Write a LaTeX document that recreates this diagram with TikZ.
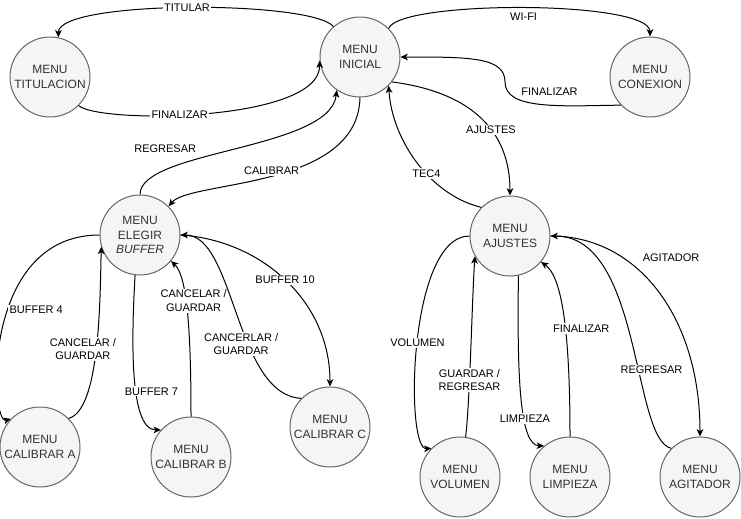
\documentclass[tikz,border=0pt]{standalone}
\usepackage{fontspec}
\setmainfont{Liberation Sans}
\usetikzlibrary{arrows.meta}
\definecolor{menufill}{HTML}{F5F5F5}
\definecolor{menuline}{HTML}{666666}
\definecolor{menutext}{HTML}{333333}

\begin{document}
\begin{tikzpicture}[x=0.75pt,y=-0.75pt,
  menu/.style={circle,draw=menuline,fill=menufill,text=menutext,minimum size=60pt,
    inner sep=0pt,align=center,line width=0.75pt,font=\fontsize{9}{10.8}\selectfont},
  trans/.style={line width=0.75pt,-{Stealth[length=5.5pt,width=5pt,inset=1.5pt]}},
  lbl/.style={fill=white,inner sep=1pt,align=center,font=\fontsize{8.25}{9.9}\selectfont}]
\useasboundingbox (0,0) rectangle (741,518);

\node[menu] (ini) at (360,57) {MENU\\INICIAL};
\node[menu] (tit) at (50,77) {MENU\\TITULACION};
\node[menu] (con) at (650,77) {MENU\\CONEXION};
\node[menu] (eleg) at (140,235) {MENU\\ELEGIR\\\textit{BUFFER}};
\node[menu] (aju) at (510,236) {MENU\\AJUSTES};
\node[menu] (calA) at (40,447) {MENU\\CALIBRAR A};
\node[menu] (calB) at (191,457) {MENU\\CALIBRAR B};
\node[menu] (calC) at (330,427) {MENU\\CALIBRAR C};
\node[menu] (vol) at (460,477) {MENU\\VOLUMEN};
\node[menu] (lim) at (570,477) {MENU\\LIMPIEZA};
\node[menu] (agi) at (700,477) {MENU\\AGITADOR};

\draw[trans] (ini.131) .. controls (310,0) and (58,0) .. (tit.78) node[lbl,pos=0.5] {TITULAR};
\draw[trans] (tit.-45) .. controls (100,124) and (320,122) .. (ini.185) node[lbl,pos=0.42] {FINALIZAR};
\draw[trans] (ini.45) .. controls (400,0) and (650,0) .. (con.north) node[lbl,pos=0.5,below=2pt] {WI-FI};
\draw[trans] (con.224) .. controls (560,106) and (505,110) .. (505,82) node[lbl,pos=0.5,above=5pt,xshift=7pt] {FINALIZAR}
  .. controls (505,57) and (470,57) .. (ini.east);
\draw[trans] (ini.-38) .. controls (470,92) and (510,130) .. (aju.north) node[lbl,pos=0.6] {AJUSTES};
\draw[trans] (aju.135) .. controls (430,195) and (392,140) .. (ini.-45) node[lbl,pos=0.41] {TEC4};

\draw[trans] (eleg.north) .. controls (140,150) and (330,150) .. (ini.-125) node[lbl,pos=0.3,above=7pt,xshift=-12pt] {REGRESAR};
\draw[trans] (ini.south) .. controls (358,190) and (190,180) .. (eleg.45) node[lbl,pos=0.5,above] {CALIBRAR};
\draw[trans] (eleg.west) .. controls (-20,235) and (-10,425) .. (calA.136) node[lbl,pos=0.43,right] {BUFFER 4};
\draw[trans] (calA.45) .. controls (100,410) and (100,300) .. (eleg.197) node[lbl,pos=0.5,xshift=-10pt] {CANCELAR /\\GUARDAR};
\draw[trans] (eleg.-97) .. controls (132,330) and (128,430) .. (calB.138) node[lbl,pos=0.6,xshift=11pt] {BUFFER 7};
\draw[trans] (calB.north) .. controls (191,320) and (186,275) .. (eleg.-40) node[lbl,pos=0.55,xshift=6pt] {CANCELAR /\\GUARDAR};
\draw[trans] (calC.135) .. controls (235,395) and (235,235) .. (eleg.east) node[lbl,pos=0.38,xshift=-5pt] {CANCERLAR /\\GUARDAR};
\draw[trans] (eleg.east) .. controls (260,240) and (330,300) .. (calC.north) node[lbl,pos=0.5] {BUFFER 10};

\draw[trans] (aju.west) .. controls (408,236) and (405,450) .. (vol.135) node[lbl,pos=0.5] {VOLUMEN};
\draw[trans] (vol.82) .. controls (470,400) and (472,300) .. (aju.210) node[lbl,pos=0.35] {GUARDAR /\\REGRESAR};
\draw[trans] (aju.-78) .. controls (517,380) and (520,445) .. (lim.130) node[lbl,pos=0.62] {LIMPIEZA};
\draw[trans] (lim.north) .. controls (570,320) and (560,275) .. (aju.-40) node[lbl,pos=0.4,xshift=12pt] {FINALIZAR};
\draw[trans] (aju.east) .. controls (640,236) and (700,320) .. (agi.north) node[lbl,pos=0.3,right,xshift=14pt] {AGITADOR};
\draw[trans] (agi.135) .. controls (632,440) and (642,236) .. (aju.east) node[lbl,pos=0.4,xshift=10pt] {REGRESAR};

\end{tikzpicture}
\end{document}
